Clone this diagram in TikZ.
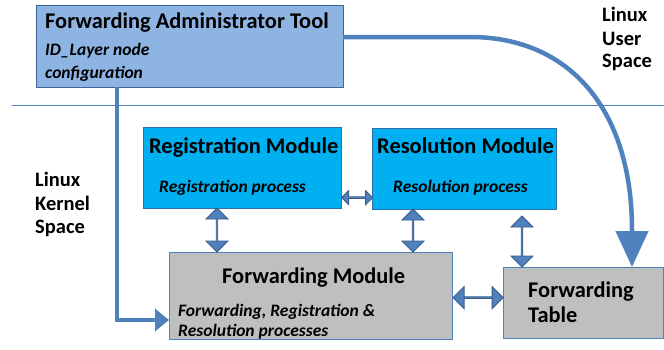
\documentclass[tikz,border=0pt]{standalone}
\usepackage{fontspec}
\setmainfont{Carlito}
\usetikzlibrary{arrows.meta,shapes.arrows,calc}
\definecolor{admfill}{HTML}{8EB4E3}
\definecolor{admdraw}{HTML}{3F6699}
\definecolor{modfill}{HTML}{00B0F0}
\definecolor{moddraw}{HTML}{2F6FA8}
\definecolor{grayfill}{HTML}{BFBFBF}
\definecolor{graydraw}{HTML}{4F81BD}
\definecolor{arrfill}{HTML}{4F81BD}
\definecolor{arrdraw}{HTML}{385D8A}
\definecolor{sepline}{HTML}{4F81BD}
\tikzset{
  x=1pt, y=-1pt,
  box/.style={draw, line width=1.2pt, inner sep=0pt, anchor=north west},
  title/.style={font=\bfseries\fontsize{22.4}{22}\selectfont, anchor=base west, inner sep=0pt},
  sub/.style={font=\bfseries\itshape\fontsize{17.5}{17}\selectfont, anchor=base west, inner sep=0pt},
  side/.style={font=\bfseries\fontsize{20.5}{20}\selectfont, anchor=base west, inner sep=0pt},
  blockarrow/.style={double arrow, draw=arrdraw, fill=arrfill, line width=0.8pt, inner sep=0pt},
  vflow/.style={blockarrow, rotate=90, minimum width=22pt, double arrow head extend=5.5pt, double arrow head indent=0pt},
  hflow/.style={blockarrow, minimum width=22pt, double arrow head extend=5pt},
  flowline/.style={draw=arrfill, line width=4.5pt},
}
\begin{document}
\begin{tikzpicture}
\useasboundingbox (0,0) rectangle (664,349);

% separator between user space and kernel space
\draw[sepline, line width=1pt] (12,105) -- (664,105);

% boxes
\node[box, fill=admfill, draw=admdraw, minimum width=307pt, minimum height=82pt] (adm) at (36,5) {};
\node[box, fill=modfill, draw=moddraw, minimum width=198pt, minimum height=81pt] (reg) at (143,127) {};
\node[box, fill=modfill, draw=moddraw, minimum width=184pt, minimum height=81pt] (res) at (372,128) {};
\node[box, fill=grayfill, draw=graydraw, minimum width=283pt, minimum height=87pt] (fwd) at (169,252) {};
\node[box, fill=grayfill, draw=graydraw, minimum width=160pt, minimum height=71pt] (tab) at (503,267) {};

% box texts
\node[title] (admt) at (45,28) {Forwarding Administrator Tool};
\node[sub] (adms1) at (45,55) {ID\_Layer node};
\node[sub] (adms2) at (45,78) {configuration};

\node[title] (regt) at (149,153) {Registration Module};
\node[sub] (regs) at (159,192) {Registration process};

\node[title] (rest) at (377,153) {Resolution Module};
\node[sub] (ress) at (393,192) {Resolution process};

\node[title] (fwdt) at (222,283) {Forwarding Module};
\node[sub] (fwds1) at (178,316) {Forwarding, Registration \&};
\node[sub] (fwds2) at (178,336) {Resolution processes};

\node[title] (tabt1) at (528,297) {Forwarding};
\node[title] (tabt2) at (528,322) {Table};

% space labels
\node[side] (us1) at (602,21) {Linux};
\node[side] (us2) at (602,45) {User};
\node[side] (us3) at (602,67) {Space};
\node[side] (ks1) at (35,186) {Linux};
\node[side] (ks2) at (35,210) {Kernel};
\node[side] (ks3) at (35,233) {Space};

% block arrows between modules
\node[hflow, minimum height=31pt, minimum width=14pt, double arrow head extend=3pt] (a1) at ($(reg.east)!0.5!(res.west) + (0,29)$) {};
\node[vflow, minimum height=44pt] (a2) at ($(217,208)!0.5!(217,252)$) {};
\node[vflow, minimum height=43pt] (a3) at ($(413,209)!0.5!(413,252)$) {};
\node[vflow, minimum height=51pt] (a4) at ($(522,216)!0.5!(522,267)$) {};
\node[hflow, minimum height=50pt] (a5) at ($(fwd.east)!0.5!(tab.west) + (0,-2)$) {};

% administrator tool connectors
\coordinate (admdown) at (117,87);
\coordinate (bend) at (117,320);
\draw[flowline, -{Triangle[length=14pt,width=22pt]}, arrfill] (admdown) -- (bend) -- (169,320);
\coordinate (admright) at (343,37);
\draw[flowline, -{Triangle[length=36pt,width=32pt]}, arrfill]
  (admright) -- (470,37) .. controls (570,37) and (632,110) .. (632,230) -- (tab.north -| 632,0);
\end{tikzpicture}
\end{document}
